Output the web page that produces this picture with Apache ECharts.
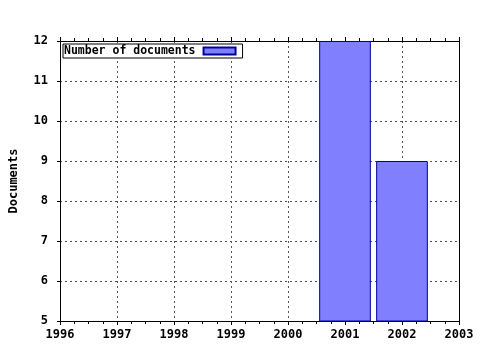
<!DOCTYPE html>
<html><head><meta charset="utf-8">
<script src="https://cdn.jsdelivr.net/npm/echarts@6/dist/echarts.min.js"></script>
<style>html,body{margin:0;padding:0;background:#fff}#c{width:480px;height:350px}</style>
</head><body><div id="c"></div>
<script>
const years = [2001, 2002];
const documents = [12, 9];
const seriesName = 'Number of documents';
const yAxisTitle = 'Documents';
const xMin = 1996, xMax = 2003, yMin = 5, yMax = 12;

const FONT = 'DejaVu Sans Mono';
const gridL = 57, gridR = 21, gridT = 41, gridB = 29;
const plotW = 480 - gridL - gridR;
const barW = plotW / (xMax - xMin) * 0.9;

const chart = echarts.init(document.getElementById('c'), null, {renderer: 'canvas'});
const lbl = {color: '#000', fontFamily: FONT, fontWeight: 'bold', fontSize: 12};
const grid = {show: true, lineStyle: {color: '#555', type: [2, 3], width: 1}};
chart.setOption({
  animation: false,
  backgroundColor: '#fff',
  grid: {left: gridL, right: gridR, top: gridT, bottom: gridB},
  legend: {
    left: 63, top: 44, orient: 'horizontal', align: 'right',
    padding: [1, 6, 1, 1], borderColor: '#000', borderWidth: 1,
    backgroundColor: '#fff',
    itemWidth: 32, itemHeight: 7, icon: 'rect',
    textStyle: Object.assign({}, lbl, {fontSize: 11.5, lineHeight: 12, padding: [0, 3, 0, 0]}),
    data: [seriesName]
  },
  xAxis: [{
    type: 'value', min: xMin, max: xMax, interval: 1, position: 'bottom',
    axisLine: {show: true, lineStyle: {color: '#000', width: 1}},
    axisTick: {show: true, inside: false, length: 4, lineStyle: {color: '#000'}},
    minorTick: {show: true, splitNumber: 4, length: 3, lineStyle: {color: '#000'}},
    axisLabel: Object.assign({}, lbl, {margin: 8, formatter: v => String(v)}),
    splitLine: grid
  }, {
    type: 'value', min: xMin, max: xMax, interval: 1, position: 'top',
    axisLine: {show: true, onZero: false, lineStyle: {color: '#000', width: 1}},
    axisTick: {show: true, inside: false, length: 4, lineStyle: {color: '#000'}},
    minorTick: {show: true, splitNumber: 4, length: 3, lineStyle: {color: '#000'}},
    axisLabel: {show: false}, splitLine: {show: false}
  }],
  yAxis: [{
    type: 'value', min: yMin, max: yMax, interval: 1, position: 'left',
    name: yAxisTitle, nameLocation: 'middle', nameGap: 40, nameRotate: 90,
    nameTextStyle: lbl,
    axisLine: {show: true, onZero: false, lineStyle: {color: '#000', width: 1}},
    axisTick: {show: true, inside: false, length: 3, lineStyle: {color: '#000'}},
    axisLabel: Object.assign({}, lbl, {margin: 12}),
    splitLine: grid
  }, {
    type: 'value', min: yMin, max: yMax, interval: 1, position: 'right',
    axisLine: {show: true, onZero: false, lineStyle: {color: '#000', width: 1}},
    axisTick: {show: false}, axisLabel: {show: false}, splitLine: {show: false}
  }],
  series: [{
    name: seriesName, type: 'bar', xAxisIndex: 0, yAxisIndex: 0,
    barWidth: barW,
    itemStyle: {color: '#8080ff', borderColor: '#0000a0', borderWidth: 1},
    data: years.map((y, i) => [y, documents[i]])
  }]
});
</script></body></html>
